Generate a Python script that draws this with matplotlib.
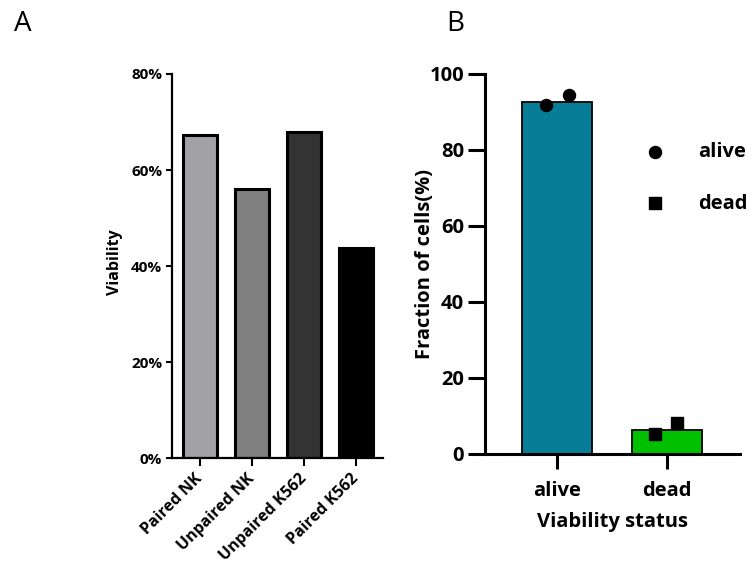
import matplotlib.pyplot as plt
import numpy as np
from matplotlib.ticker import PercentFormatter

plt.rcParams['font.family'] = ['Open Sans', 'DejaVu Sans']

# panel A data
groups = ["Paired NK", "Unpaired NK", "Unpaired K562", "Paired K562"]
viability = [67.3, 56.0, 67.9, 43.8]
grey_colors = ["#a2a2a6", "#808080", "#333333", "#000000"]

# panel B data
status = ["alive", "dead"]
fraction_mean = [92.7, 6.4]
alive_points = [91.8, 94.5]
dead_points = [5.3, 8.1]
status_colors = ["#077d98", "#00c000"]

fig = plt.figure(figsize=(7.56, 5.67), dpi=100)

# ---- A ----
axA = fig.add_axes([0.2275, 0.1922, 0.2791, 0.6773])
xa = np.arange(len(groups))
axA.bar(xa, viability, width=0.65, color=grey_colors, edgecolor="black", linewidth=2.2)
axA.set_xlim(-0.54, 3.52)
axA.set_ylim(0, 80)
axA.set_yticks([0, 20, 40, 60, 80])
axA.yaxis.set_major_formatter(PercentFormatter(decimals=0))
axA.set_xticks(xa)
axA.set_xticklabels(groups, rotation=45, ha="right", va="center", rotation_mode="anchor",
                    fontsize=11.5, fontweight="bold")
for lab in axA.get_yticklabels():
    lab.set_fontweight("bold")
axA.tick_params(axis="y", labelsize=11, length=4, width=1.5, pad=3)
axA.tick_params(axis="x", length=6, width=1.5, pad=7)
axA.set_ylabel("Viability", fontsize=11.5, fontweight="bold")
axA.yaxis.set_label_coords(-0.232, 0.51)
for s in ["top", "right"]:
    axA.spines[s].set_visible(False)
for s in ["left", "bottom"]:
    axA.spines[s].set_linewidth(1.6)

# ---- B ----
axB = fig.add_axes([0.6415, 0.1993, 0.3373, 0.6702])
xb = np.arange(len(status))
axB.bar(xb, fraction_mean, width=0.636, color=status_colors, edgecolor="black", linewidth=1.3)
axB.scatter(xb[0] + np.array([-0.1, 0.11]), alive_points, marker="o", s=75,
            color="black", zorder=3, label="alive")
axB.scatter(xb[1] + np.array([-0.11, 0.09]), dead_points, marker="s", s=70,
            color="black", zorder=3, label="dead")
axB.set_xlim(-0.655, 1.66)
axB.set_ylim(0, 100)
axB.set_yticks([0, 20, 40, 60, 80, 100])
axB.set_xticks(xb)
axB.set_xticklabels(status, fontsize=14.5, fontweight="bold")
for lab in axB.get_yticklabels():
    lab.set_fontweight("bold")
axB.tick_params(axis="y", labelsize=14.5, length=12, width=2.2, pad=3)
axB.tick_params(axis="x", length=10.5, width=2.2, pad=9)
axB.set_ylabel("Fraction of cells(%)", fontsize=14.5, fontweight="bold", labelpad=-4)
axB.set_xlabel("Viability status", fontsize=14.5, fontweight="bold", labelpad=8)
for s in ["top", "right"]:
    axB.spines[s].set_visible(False)
for s in ["left", "bottom"]:
    axB.spines[s].set_linewidth(2.2)
axB.legend(loc="upper left", bbox_to_anchor=(0.588, 0.82), frameon=False,
           borderpad=0, borderaxespad=0, handlelength=2, handletextpad=1.15,
           labelspacing=1.55, prop={"weight": "bold", "size": 14.5})

fig.text(0.018, 0.945, "A", fontsize=20)
fig.text(0.59, 0.945, "B", fontsize=20)

fig.savefig("out.png", dpi=100)
